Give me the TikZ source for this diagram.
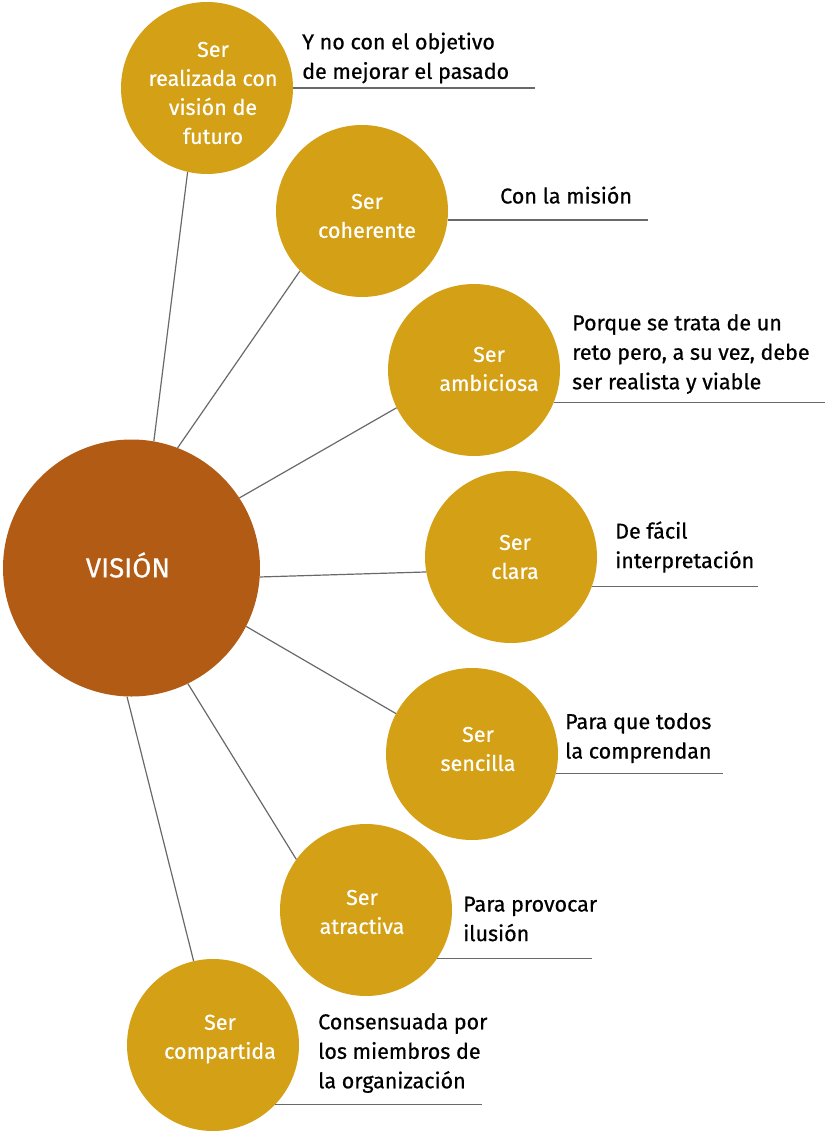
\documentclass[tikz,border=0pt]{standalone}
\usepackage{fontspec}
\setmainfont{Fira Sans}[FakeBold=0.6]
\definecolor{gold}{RGB}{212,160,22}
\definecolor{rust}{RGB}{178,91,21}
\definecolor{linegray}{RGB}{105,105,105}
\begin{document}
\begin{tikzpicture}[x=1pt,y=-1pt,
  bubble/.style={circle,fill=gold,minimum size=172pt,inner sep=0pt},
  core/.style={circle,fill=rust,minimum size=257pt,inner sep=0pt},
  intext/.style={text=white,align=center,inner sep=0pt,font=\fontsize{21.5}{29}\selectfont},
  note/.style={text=black,align=left,anchor=west,inner sep=0pt,font=\fontsize{21.5}{29.5}\selectfont},
  link/.style={draw=linegray,line width=1.2pt}]
\useasboundingbox (0,0) rectangle (825,1131);

% circles
\node[core] (v) at (131.5,568) {};
\node[text=white,font=\fontsize{27.5}{32}\selectfont] (vt) at (128,565) {VISIÓN};

\node[bubble] (c1) at (207,88) {};
\node[bubble] (c2) at (362,211) {};
\node[bubble] (c3) at (474,370) {};
\node[bubble] (c4) at (511,557) {};
\node[bubble] (c5) at (472,754) {};
\node[bubble] (c6) at (366,910) {};
\node[bubble] (c7) at (213,1045) {};

% circle texts
\node[intext] (t1) at (213,93) {Ser\\realizada con\\visión de\\futuro};
\node[intext] (t2) at (367,216) {Ser\\coherente};
\node[intext] (t3) at (489,369) {Ser\\ambiciosa};
\node[intext] (t4) at (515,557) {Ser\\clara};
\node[intext] (t5) at (478,749) {Ser\\sencilla};
\node[intext] (t6) at (362,912) {Ser\\atractiva};
\node[intext] (t7) at (220,1039) {Ser\\compartida};

% connectors
\draw[link] (v.80.5) -- (c1.257);
\draw[link] (v.69.8) -- (c2.224.5);
\draw[link] (v.33.2) -- (c3.206.3);
\draw[link] (v.356.4) -- (c4.190.7);
\draw[link] (v.333.1) -- (c5.152);
\draw[link] (v.296.6) -- (c6.144.3);
\draw[link] (v.268.4) -- (c7.103.9);

% underline ends
\coordinate (u1) at (535,88);
\coordinate (u2) at (648,219);
\coordinate (u3) at (825,402);
\coordinate (u4) at (758,586);
\coordinate (u5) at (723,773);
\coordinate (u6) at (592,958);
\coordinate (u7) at (482,1104);

\draw[link] (c1.0) -- (u1 |- c1.0);
\draw[link] (c2.354.7) -- (u2 |- c2.354.7);
\draw[link] (c3.338.2) -- (u3 |- c3.338.2);
\draw[link] (c4.340.3) -- (u4 |- c4.340.3);
\draw[link] (c5.347.2) -- (u5 |- c5.347.2);
\draw[link] (c6.326.1) -- (u6 |- c6.326.1);
\draw[link] (c7.316.7) -- (u7 |- c7.316.7);

% notes
\node[note] (n1) at (302,58) {Y no con el objetivo\\de mejorar el pasado};
\node[note] (n2) at (500,195) {Con la misión};
\node[note] (n3) at (572,354) {Porque se trata de un\\reto pero, a su vez, debe\\ser realista y viable};
\node[note] (n4) at (615,547) {De fácil\\interpretación};
\node[note] (n5) at (565,738) {Para que todos\\la comprendan};
\node[note] (n6) at (463,919) {Para provocar\\ilusión};
\node[note] (n7) at (318,1053) {Consensuada por\\los miembros de\\la organización};
\end{tikzpicture}
\end{document}
